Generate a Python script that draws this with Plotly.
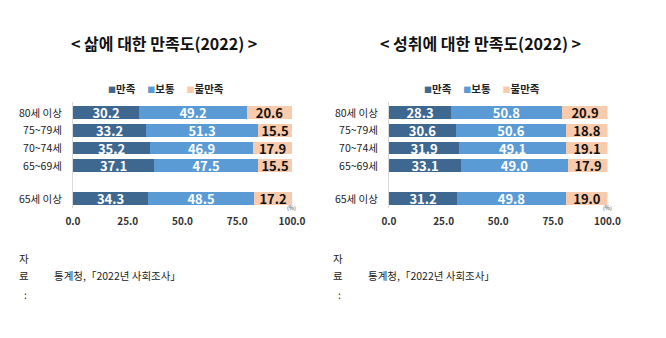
import plotly.graph_objects as go

# ---- data ----
groups = ["80세 이상", "75~79세", "70~74세", "65~69세", "65세 이상"]
group_pos = [0, 1, 2, 3, 4.87]
series_names = ["만족", "보통", "불만족"]

life_satisfied = [30.2, 33.2, 35.2, 37.1, 34.3]
life_neutral = [49.2, 51.3, 46.9, 47.5, 48.5]
life_dissatisfied = [20.6, 15.5, 17.9, 15.5, 17.2]

ach_satisfied = [28.3, 30.6, 31.9, 33.1, 31.2]
ach_neutral = [50.8, 50.6, 49.1, 49.0, 49.8]
ach_dissatisfied = [20.9, 18.8, 19.1, 17.9, 19.0]

x_ticks = [0, 25, 50, 75, 100]

titles = ["< 삶에 대한 만족도(2022) >", "< 성취에 대한 만족도(2022) >"]
source_text = "통계청,「2022년 사회조사」"

# ---- styles ----
colors = ["#3F6891", "#5B9BD5", "#F8CBAD"]
text_colors = ["white", "white", "#111111"]
FONT = "Noto Sans CJK KR"
W, H = 666, 338

fig = go.Figure()

panels = [
    ([life_satisfied, life_neutral, life_dissatisfied], "x", "y"),
    ([ach_satisfied, ach_neutral, ach_dissatisfied], "x2", "y2"),
]
for vals, xa, ya in panels:
    for name, v, c, tc in zip(series_names, vals, colors, text_colors):
        fig.add_trace(go.Bar(
            y=group_pos, x=v, orientation="h", name=name,
            marker=dict(color=c, line=dict(width=0)),
            width=0.72,
            text=[f"{a:.1f}" for a in v],
            textposition="inside", insidetextanchor="middle",
            textfont=dict(family=FONT, size=13, color=tc, weight=700),
            xaxis=xa, yaxis=ya, showlegend=False,
        ))

# plot domains (pixels -> paper)
left_x = (73 / W, 292 / W)
right_x = (389 / W, 607.5 / W)
yr = [5.4, -0.6]
y_dom = (1 - 208.4 / H, 1 - 102.4 / H)

xaxis_common = dict(
    range=[0, 100], tickvals=x_ticks, ticktext=[f"{t:.1f}" for t in x_ticks],
    showgrid=False, zeroline=False, showline=False, ticks="",
    ticklabelstandoff=6, automargin=False,
    tickfont=dict(family=FONT, size=10, color="#333333", weight=700),
    fixedrange=True,
)
yaxis_common = dict(
    range=yr, tickvals=group_pos, ticktext=groups,
    showgrid=False, zeroline=False, showline=True, linecolor="#D9D9D9", linewidth=1,
    ticks="", ticklabelstandoff=8, automargin=False,
    tickfont=dict(family=FONT, size=10.5, color="#222222"),
    domain=list(y_dom),
)

fig.update_layout(
    width=W, height=H,
    margin=dict(l=0, r=0, t=0, b=0),
    paper_bgcolor="white", plot_bgcolor="white",
    barmode="stack", bargap=0,
    uniformtext=dict(minsize=13, mode="show"),
    xaxis=dict(domain=list(left_x), anchor="y", **xaxis_common),
    yaxis=dict(anchor="x", **yaxis_common),
    xaxis2=dict(domain=list(right_x), anchor="y2", **xaxis_common),
    yaxis2=dict(anchor="x2", **yaxis_common),
)

def px(x, y):
    return x / W, 1 - y / H

annots = []
# titles
for cx, t in [(164, titles[0]), (480, titles[1])]:
    ax, ay = px(cx, 43)
    annots.append(dict(x=ax, y=ay, xref="paper", yref="paper", text=f"<b>{t}</b>",
                       showarrow=False, xanchor="center", yanchor="middle",
                       font=dict(family=FONT, size=16, color="#111111")))
# legends
for cx in [166, 482]:
    ax, ay = px(cx, 88)
    parts = []
    for n, c in zip(series_names, colors):
        parts.append(f'<span style="color:{c};font-size:8px">■</span>{n}')
    annots.append(dict(x=ax, y=ay, xref="paper", yref="paper",
                       text="<b>" + "     ".join(parts) + "</b>",
                       showarrow=False, xanchor="center", yanchor="middle",
                       font=dict(family=FONT, size=10.5, color="#222222")))
# (%) units
for ux in [291, 607]:
    ax, ay = px(ux, 208)
    annots.append(dict(x=ax, y=ay, xref="paper", yref="paper", text="(%)",
                       showarrow=False, xanchor="center", yanchor="middle",
                       font=dict(family=FONT, size=5.5, color="#333333")))
# source notes
for ox in [0, 314]:
    for ch, yy in [("자", 258), ("료", 275), (":", 294)]:
        ax, ay = px(24 + ox + (1 if ch == ":" else 0), yy)
        annots.append(dict(x=ax, y=ay, xref="paper", yref="paper", text=ch,
                           showarrow=False, xanchor="center", yanchor="middle",
                           font=dict(family=FONT, size=10.5, color="#222222")))
    ax, ay = px(52 + ox, 275)
    annots.append(dict(x=ax, y=ay, xref="paper", yref="paper", text=source_text,
                       showarrow=False, xanchor="left", yanchor="middle",
                       font=dict(family=FONT, size=10.5, color="#222222")))

fig.update_layout(annotations=annots)
fig.write_html("out.html")
